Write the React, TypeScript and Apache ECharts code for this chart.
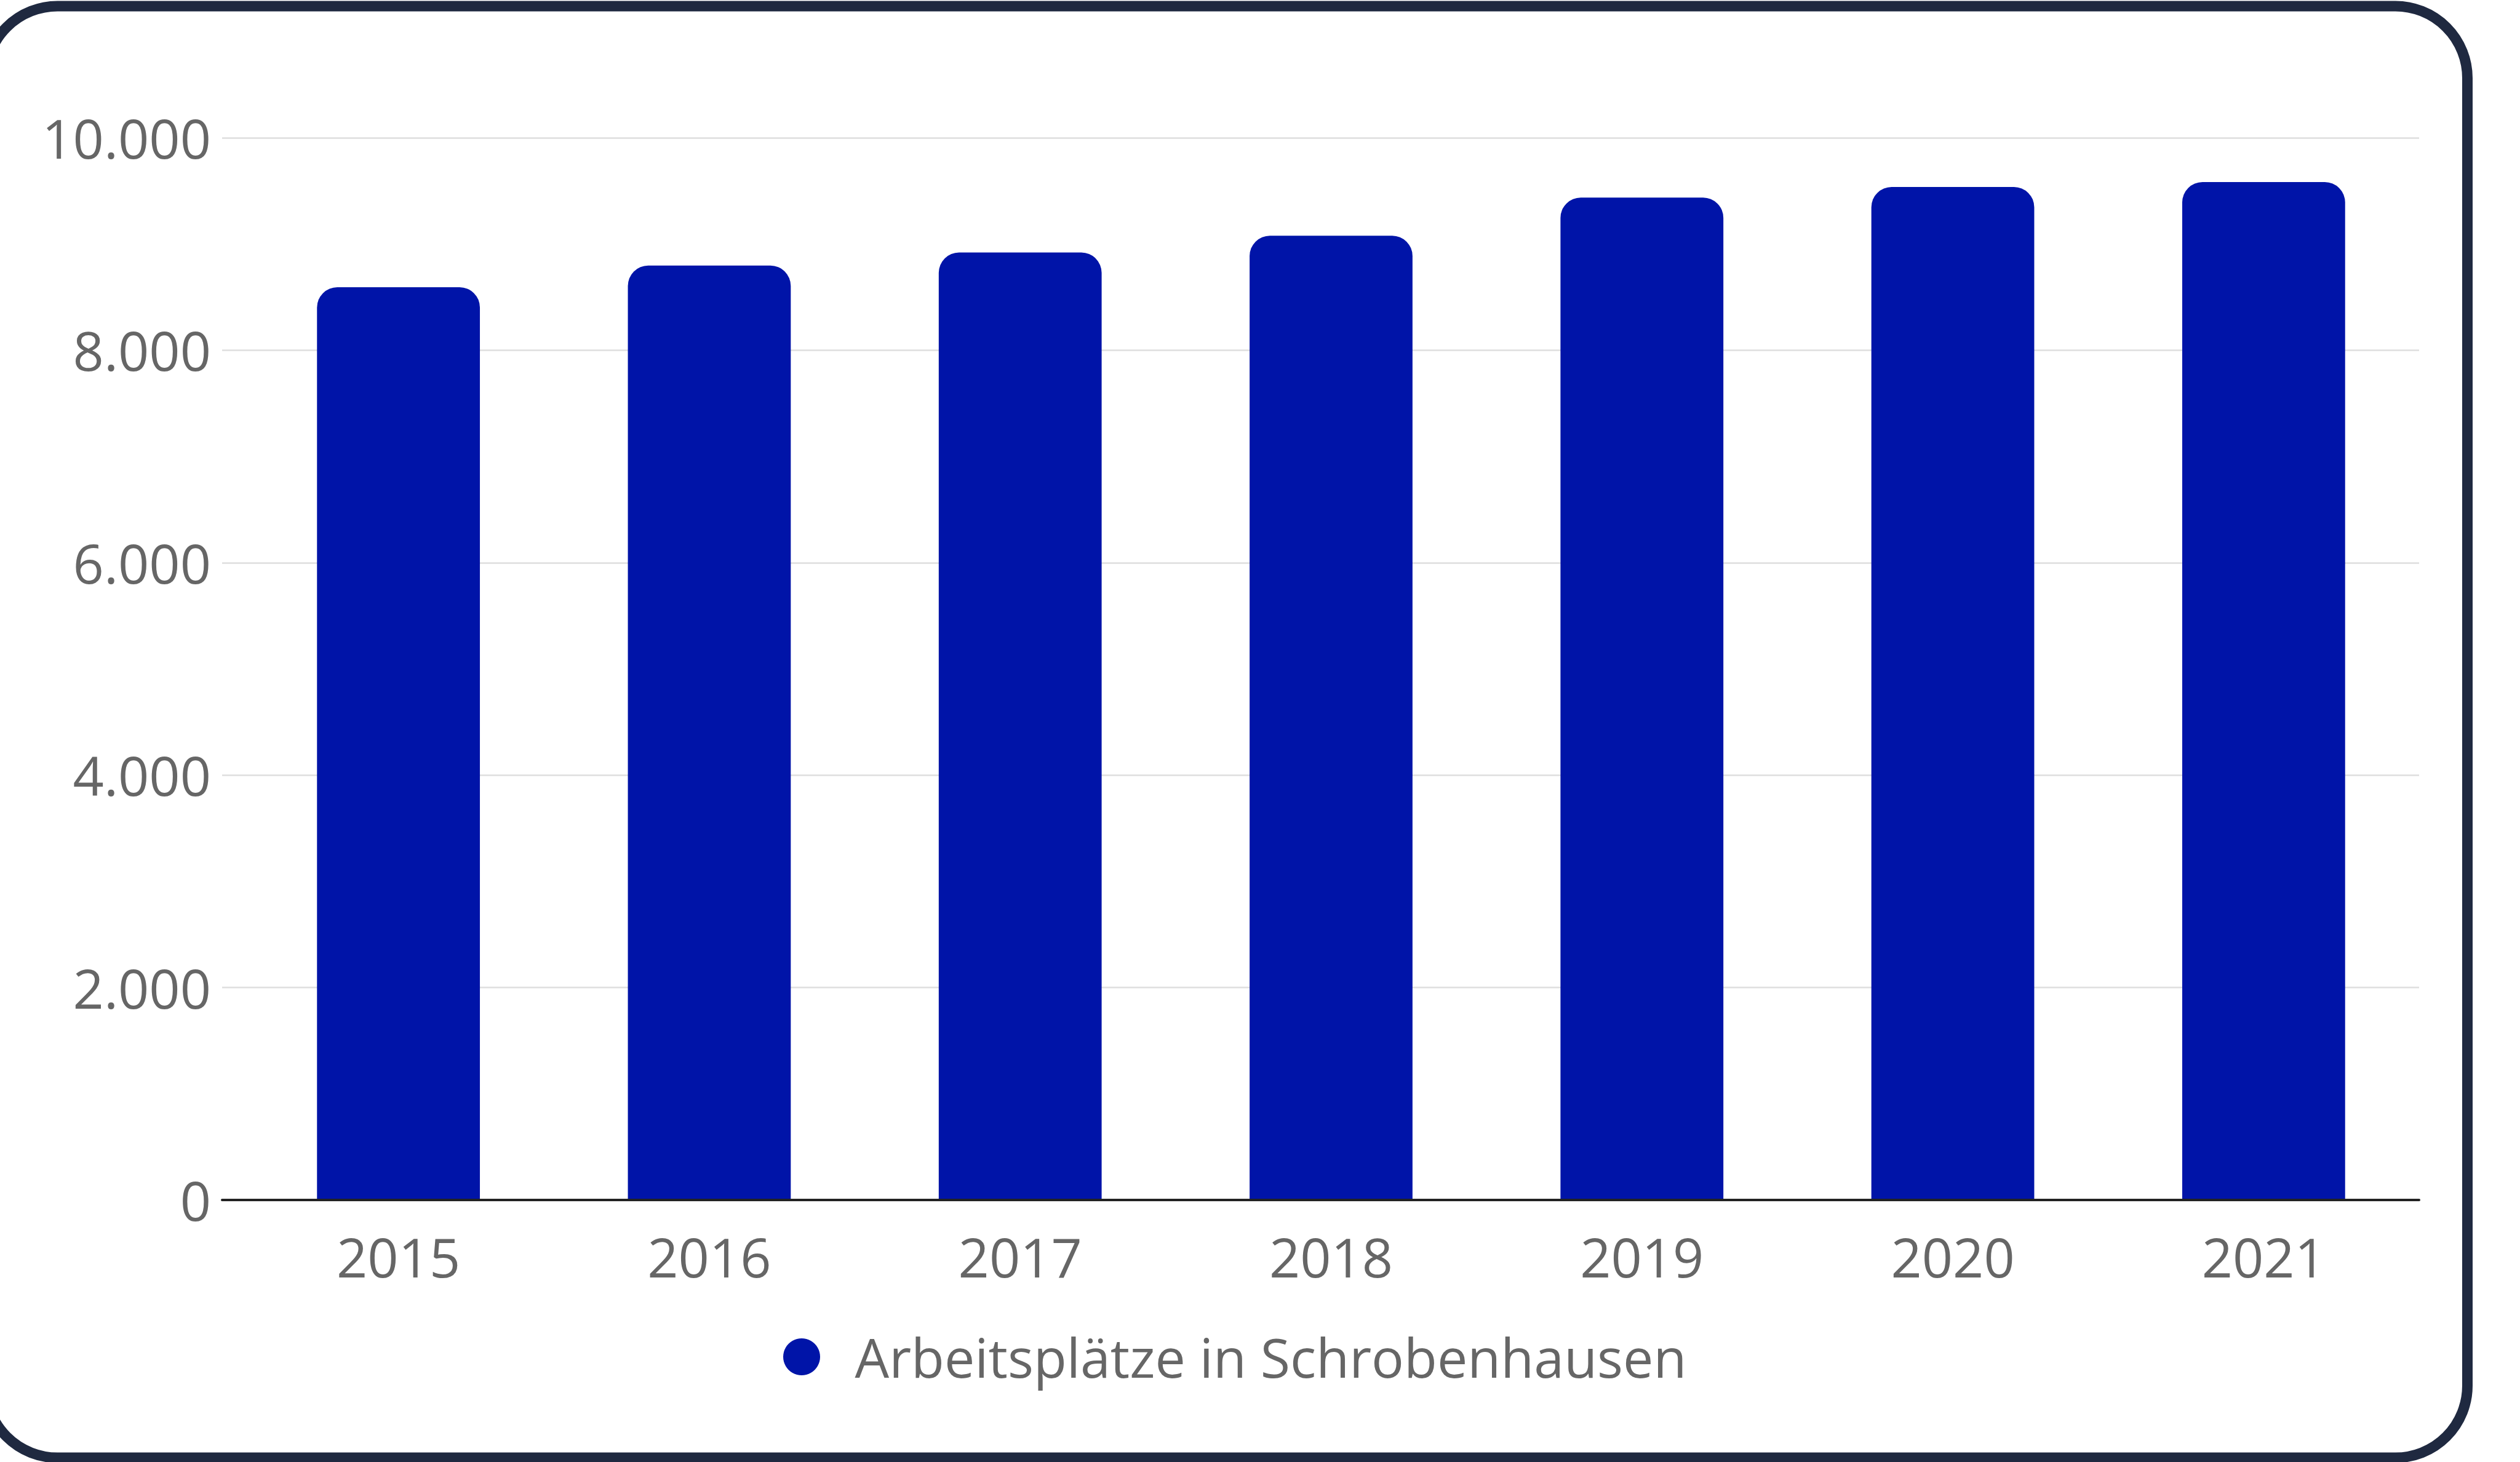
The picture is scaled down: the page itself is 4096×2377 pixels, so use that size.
import React, { useEffect, useRef } from "react";
import * as echarts from "echarts";

const years = ["2015", "2016", "2017", "2018", "2019", "2020", "2021"];
const jobs = [8593, 8797, 8920, 9078, 9437, 9537, 9583];
const seriesName = "Arbeitsplätze in Schrobenhausen";
const yTicks = { min: 0, max: 10000, interval: 2000 };

const FONT = "'Open Sans', 'Noto Sans', sans-serif";
const TEXT = "#666666";
const BAR = "#0014a8";
const FRAME = "#1f2940";

function fmt(v: number): string {
  return String(v).replace(/\B(?=(\d{3})+(?!\d))/g, ".");
}

export default function App() {
  const ref = useRef<HTMLDivElement>(null);
  useEffect(() => {
    document.body.style.margin = "0";
    const chart = echarts.init(ref.current!, null, { renderer: "svg" });
    const gridBase = { right: 164, top: 224, bottom: 426 };
    chart.setOption({
      animation: false,
      backgroundColor: "#ffffff",
      grid: [
        { ...gridBase, left: 361 },
        { ...gridBase, left: 395 },
      ],
      xAxis: [
        {
          gridIndex: 0,
          type: "value",
          min: 0,
          max: 1,
          z: 5,
          axisLine: { show: true, lineStyle: { color: "#222222", width: 4 } },
          axisTick: { show: false },
          axisLabel: { show: false },
          splitLine: { show: false },
        },
        {
          gridIndex: 1,
          type: "category",
          data: years,
          axisLine: { show: false },
          axisTick: { show: false },
          axisLabel: {
            interval: 0,
            margin: 48,
            color: TEXT,
            fontSize: 88,
            fontFamily: FONT,
          },
        },
      ],
      yAxis: [
        {
          gridIndex: 0,
          type: "value",
          min: yTicks.min,
          max: yTicks.max,
          interval: yTicks.interval,
          axisLine: { show: false },
          axisTick: { show: false },
          axisLabel: {
            margin: 18,
            color: TEXT,
            fontSize: 88,
            fontFamily: FONT,
            formatter: (v: number) => fmt(v),
          },
          splitLine: { show: true, lineStyle: { color: "#dedede", width: 2.5 } },
        },
        {
          gridIndex: 1,
          type: "value",
          min: yTicks.min,
          max: yTicks.max,
          show: false,
          splitLine: { show: false },
        },
      ],
      legend: {
        left: 1268,
        top: 2157,
        icon: "circle",
        itemWidth: 163,
        itemHeight: 60,
        symbolKeepAspect: true,
        textStyle: { color: TEXT, fontSize: 88, fontFamily: FONT },
        data: [seriesName],
      },
      series: [
        {
          name: seriesName,
          type: "bar",
          xAxisIndex: 1,
          yAxisIndex: 1,
          data: jobs,
          barWidth: "52.4%",
          itemStyle: { color: BAR, borderRadius: [33, 33, 0, 0] },
        },
      ],
      graphic: [
        {
          type: "rect",
          z: 100,
          silent: true,
          shape: { x: -23.5, y: 10, width: 4034, height: 2360, r: 117 },
          style: { fill: "none", stroke: FRAME, lineWidth: 17 },
        },
      ],
    });
    return () => chart.dispose();
  }, []);
  return (
    <div
      ref={ref}
      style={{ position: "absolute", left: 0, top: 0, width: 4096, height: 2377 }}
    />
  );
}
